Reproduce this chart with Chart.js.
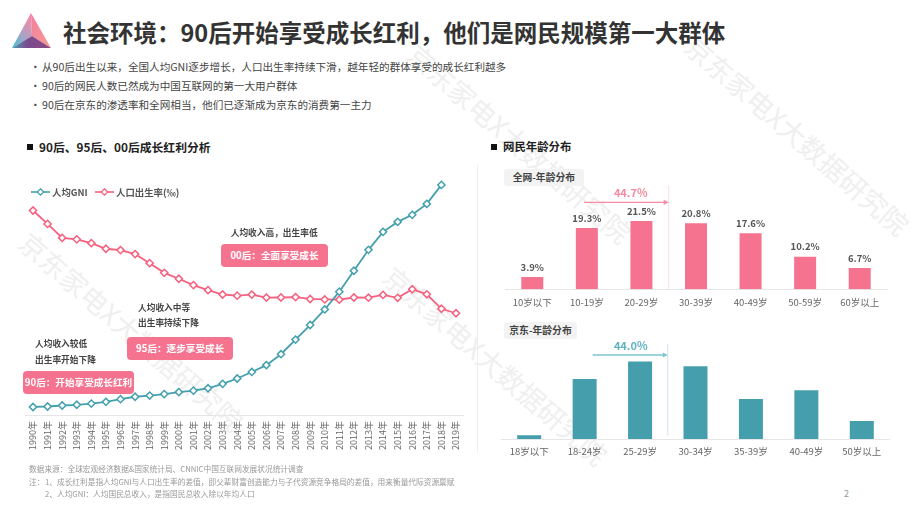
<!DOCTYPE html>
<html>
<head>
<meta charset="utf-8">
<script src="https://cdn.jsdelivr.net/npm/chart.js@4"></script>
<style>
html, body { margin: 0; padding: 0; background: #fff; }
body { width: 920px; height: 518px; position: relative; overflow: hidden; font-family: "Noto Sans CJK SC", sans-serif; }
canvas { position: absolute; }
.t { position: absolute; white-space: nowrap; transform: translateY(-50%); line-height: 1.2; }
.title { font-size: 23.5px; font-weight: 700; color: #333; }
.bullet { font-size: 10.6px; color: #444; }
.head { font-size: 11.8px; font-weight: 700; color: #222; }
.note { font-size: 8.7px; font-weight: 700; color: #444; }
.foot { font-size: 7.7px; color: #999; }
.pill { position: absolute; background: #f5738f; border-radius: 4px; color: #fff; font-size: 9.6px; font-weight: 700; text-align: center; white-space: nowrap; }
.tag { position: absolute; background: #f3f3f3; border-radius: 3px; color: #444; font-size: 9.8px; font-weight: 700; text-align: center; white-space: nowrap; }
.sq { position: absolute; width: 6px; height: 6px; background: #111; }
.wm { position: absolute; white-space: nowrap; font-size: 27px; color: #efefef; transform-origin: 0 50%; transform: rotate(41deg); line-height: 1; }
.legend { position: absolute; left: 31px; top: 186px; height: 12px; font-size: 9.4px; font-weight: 700; color: #555; }
.legend svg { position: absolute; top: 0; }
.legend span { position: absolute; top: -1px; white-space: nowrap; }
</style>
</head>
<body>
<div class="wm" style="left:412px;top:36px">京东家电X大数据研究院</div>
<div class="wm" style="left:690px;top:28px">京东家电X大数据研究院</div>
<div class="wm" style="left:24px;top:224px">京东家电X大数据研究院</div>
<div class="wm" style="left:388px;top:258px">京东家电X大数据研究院</div>

<svg style="position:absolute;left:0;top:0" width="60" height="60">
  <defs>
    <linearGradient id="lf" x1="0.7" y1="0" x2="0.1" y2="1"><stop offset="0" stop-color="#f58aa8"/><stop offset="0.55" stop-color="#a9a3c4"/><stop offset="1" stop-color="#3cc3d6"/></linearGradient>
    <linearGradient id="rf" x1="0.2" y1="0" x2="0.8" y2="1"><stop offset="0" stop-color="#f47f9f"/><stop offset="1" stop-color="#f59a94"/></linearGradient>
    <linearGradient id="bf" x1="0" y1="0" x2="1" y2="0"><stop offset="0" stop-color="#4d9fb5"/><stop offset="0.4" stop-color="#7a4a8e"/><stop offset="1" stop-color="#8a4a80"/></linearGradient>
  </defs>
  <polygon points="31,13 12,48 32,36" fill="url(#lf)"/>
  <polygon points="31,13 51,48 32,36" fill="url(#rf)"/>
  <polygon points="12,48 51,48 32,36" fill="url(#bf)"/>
</svg>

<div class="t title" style="left:63px;top:32px">社会环境：90后开始享受成长红利，他们是网民规模第一大群体</div>

<div class="t bullet" style="left:30px;top:66.5px">•</div>
<div class="t bullet" style="left:42px;top:66.5px">从90后出生以来，全国人均GNI逐步增长，人口出生率持续下滑，越年轻的群体享受的成长红利越多</div>
<div class="t bullet" style="left:30px;top:85.5px">•</div>
<div class="t bullet" style="left:42px;top:85.5px">90后的网民人数已然成为中国互联网的第一大用户群体</div>
<div class="t bullet" style="left:30px;top:104.5px">•</div>
<div class="t bullet" style="left:42px;top:104.5px">90后在京东的渗透率和全网相当，他们已逐渐成为京东的消费第一主力</div>

<div class="sq" style="left:27px;top:144px"></div>
<div class="t head" style="left:39px;top:147px">90后、95后、00后成长红利分析</div>
<div class="sq" style="left:491px;top:143.5px"></div>
<div class="t head" style="left:503px;top:146.5px;font-size:11.4px">网民年龄分布</div>

<div style="position:absolute;left:477px;top:165px;width:1px;height:288px;background:#eee"></div>

<canvas id="lineChart" style="left:0;top:165px" width="476" height="300"></canvas>
<canvas id="allNetChart" style="left:480px;top:180px" width="420" height="130"></canvas>
<canvas id="jdChart" style="left:480px;top:335px" width="420" height="130"></canvas>

<div class="legend" id="lineLegend"></div>

<div class="t note" style="left:230.7px;top:232.5px">人均收入高，出生率低</div>
<div class="pill" style="left:221.3px;top:243.7px;width:106.4px;height:23.6px;line-height:23.6px">00后：全面享受成长</div>
<div class="t note" style="left:138px;top:307.7px">人均收入中等</div>
<div class="t note" style="left:138px;top:323px">出生率持续下降</div>
<div class="pill" style="left:127.3px;top:336.7px;width:105.7px;height:23.3px;line-height:23.3px">95后：逐步享受成长</div>
<div class="t note" style="left:35px;top:344px">人均收入较低</div>
<div class="t note" style="left:35px;top:360px">出生率开始下降</div>
<div class="pill" style="left:23.3px;top:370.7px;width:110.4px;height:23.6px;line-height:23.6px">90后：开始享受成长红利</div>

<div class="tag" style="left:503.7px;top:169.3px;width:80.3px;height:16.7px;line-height:16.7px">全网-年龄分布</div>
<div class="tag" style="left:504px;top:322px;width:73px;height:17.3px;line-height:17.3px">京东-年龄分布</div>

<div class="t foot" style="left:29px;top:469.3px">数据来源：全球宏观经济数据&amp;国家统计局、CNNIC中国互联网发展状况统计调查</div>
<div class="t foot" style="left:29px;top:481.7px">注：</div>
<div class="t foot" style="left:45px;top:481.7px">1、成长红利是指人均GNI与人口出生率的差值，即父辈财富创造能力与子代资源竞争格局的差值，用来衡量代际资源禀赋</div>
<div class="t foot" style="left:45px;top:493.7px">2、人均GNI：人均国民总收入，是指国民总收入除以年均人口</div>
<div class="t foot" style="left:844px;top:493.7px;font-size:9px">2</div>

<script>
// line chart data
const years = ['1990年','1991年','1992年','1993年','1994年','1995年','1996年','1997年','1998年','1999年',
    '2000年','2001年','2002年','2003年','2004年','2005年','2006年','2007年','2008年','2009年',
    '2010年','2011年','2012年','2013年','2014年','2015年','2016年','2017年','2018年','2019年'];
const gniName = '人均GNI';
const gniValues = [330, 350, 390, 420, 470, 540, 650, 750, 800, 860,
    940, 1000, 1100, 1280, 1500, 1770, 2050, 2500, 3100, 3700,
    4340, 5070, 5930, 6790, 7530, 7940, 8230, 8680, 9460, null];
const birthName = '人口出生率(‰)';
const birthValues = [21.06, 19.68, 18.24, 18.09, 17.70, 17.12, 16.98, 16.57, 15.64, 14.64,
    14.03, 13.38, 12.86, 12.41, 12.29, 12.40, 12.09, 12.10, 12.14, 11.95,
    11.90, 11.88, 12.10, 12.08, 12.37, 12.07, 12.95, 12.43, 10.94, 10.48];

// age distribution data
const allNetAges = ['10岁以下', '10-19岁', '20-29岁', '30-39岁', '40-49岁', '50-59岁', '60岁以上'];
const allNetValues = [3.9, 19.3, 21.5, 20.8, 17.6, 10.2, 6.7];
const allNetShare = '44.7%';
const jdAges = ['18岁以下', '18-24岁', '25-29岁', '30-34岁', '35-39岁', '40-49岁', '50岁以上'];
const jdValues = [1.2, 19.2, 24.8, 23.3, 12.8, 15.6, 5.8];
const jdShare = '44.0%';

const TEAL = '#45a0ae';
const PINK = '#f5617f';
const CJK = '"Noto Sans CJK SC", sans-serif';

Chart.defaults.font.family = CJK;
Chart.defaults.animation = false;
Chart.defaults.responsive = false;
Chart.defaults.plugins.legend.display = false;
Chart.defaults.plugins.tooltip.enabled = false;

// legend with the diamond on the line, like the slide has it
function legendItem(left, textLeft, color, label) {
    return '<svg style="left:' + left + 'px" width="20" height="12">' +
        '<line x1="0" y1="6" x2="19" y2="6" stroke="' + color + '" stroke-width="1.6"/>' +
        '<polygon points="9.5,2.8 12.7,6 9.5,9.2 6.3,6" fill="#fff" stroke="' + color + '" stroke-width="1.3"/></svg>' +
        '<span style="left:' + textLeft + 'px">' + label + '</span>';
}
document.getElementById('lineLegend').innerHTML =
    legendItem(0, 21, TEAL, gniName) + legendItem(64, 85, PINK, birthName);

function lineSet(label, data, color, axis) {
    return {
        label: label, data: data, yAxisID: axis,
        borderColor: color, borderWidth: 1.8,
        pointStyle: 'rectRot', pointRadius: 3.6,
        pointBackgroundColor: '#fff', pointBorderColor: color, pointBorderWidth: 1.5,
        tension: 0, clip: false
    };
}

new Chart(document.getElementById('lineChart'), {
    type: 'line',
    data: {
        labels: years,
        datasets: [
            lineSet(gniName, gniValues, TEAL, 'gni'),
            lineSet(birthName, birthValues, PINK, 'birth')
        ]
    },
    options: {
        layout: { padding: { left: 25.7, right: 12.7, top: 5, bottom: 0 } },
        scales: {
            x: {
                offset: true,
                grid: { display: false, drawTicks: false },
                border: { color: '#e6e6e6' },
                afterFit: function(scale) {
                    scale.height = 50;
                    scale.paddingLeft = 0;
                    scale.paddingRight = 0;
                },
                ticks: {
                    autoSkip: false, minRotation: 90, maxRotation: 90,
                    padding: 6, color: '#666', font: { size: 9 }
                }
            },
            gni: { display: false, min: 0, max: 10053 },
            birth: { display: false, min: 0, max: 25.18 }
        }
    }
});

// value labels above the bars, and the bracket arrow over the young age groups
const barExtras = {
    id: 'barExtras',
    afterDatasetsDraw: function(chart, args, opts) {
        const ctx = chart.ctx;
        const xs = chart.scales.x;
        const ys = chart.scales.y;
        ctx.save();
        if (opts.showValues) {
            ctx.fillStyle = '#555';
            ctx.font = '700 9.5px ' + CJK;
            ctx.textAlign = 'center';
            ctx.textBaseline = 'middle';
            chart.getDatasetMeta(0).data.forEach(function(bar, i) {
                ctx.fillText(chart.data.datasets[0].data[i].toFixed(1) + '%', bar.x, bar.y - 10);
            });
        }
        const splitX = (xs.getPixelForValue(opts.splitAfter) + xs.getPixelForValue(opts.splitAfter + 1)) / 2;
        ctx.strokeStyle = opts.splitColor;
        ctx.lineWidth = 1;
        ctx.beginPath();
        ctx.moveTo(splitX, opts.splitTop);
        ctx.lineTo(splitX, ys.getPixelForValue(opts.splitBottom));
        ctx.stroke();

        const arrowY = opts.arrowY;
        ctx.strokeStyle = opts.arrowColor;
        ctx.fillStyle = opts.arrowColor;
        ctx.lineWidth = 1.3;
        ctx.beginPath();
        ctx.moveTo(opts.arrowFrom, arrowY);
        ctx.lineTo(splitX - 3, arrowY);
        ctx.stroke();
        ctx.beginPath();
        ctx.moveTo(splitX, arrowY);
        ctx.lineTo(splitX - 5, arrowY - 2.6);
        ctx.lineTo(splitX - 5, arrowY + 2.6);
        ctx.closePath();
        ctx.fill();

        ctx.fillStyle = opts.textColor;
        ctx.font = '700 11px ' + CJK;
        ctx.textAlign = 'center';
        ctx.textBaseline = 'middle';
        ctx.fillText(opts.text, 150.7, opts.textY);
        ctx.restore();
    }
};

function barChart(id, ages, values, color, cfg) {
    return new Chart(document.getElementById(id), {
        type: 'bar',
        data: {
            labels: ages,
            datasets: [{
                data: values, backgroundColor: color,
                barPercentage: cfg.barShare, categoryPercentage: 1
            }]
        },
        plugins: [barExtras],
        options: {
            layout: { padding: { left: cfg.left, right: cfg.right, top: cfg.top, bottom: 0 } },
            scales: {
                x: {
                    grid: { display: false, drawTicks: false },
                    border: { color: '#e6e6e6' },
                    afterFit: function(scale) {
                        scale.height = cfg.axisHeight;
                        scale.paddingLeft = 0;
                        scale.paddingRight = 0;
                    },
                    ticks: { padding: 7, color: '#666', font: { size: 9.5 }, maxRotation: 0, autoSkip: false }
                },
                y: { display: false, min: 0, max: cfg.max }
            },
            plugins: { barExtras: cfg.extras }
        }
    });
}

barChart('allNetChart', allNetAges, allNetValues, '#f5738f', {
    barShare: 0.403, left: 25, right: 13, top: 5.3, axisHeight: 20.7, max: 32.7,
    extras: {
        showValues: true, splitAfter: 2, splitTop: 5.7, splitBottom: 0,
        splitColor: '#fbdde4', arrowFrom: 104, arrowY: 22.3, arrowColor: '#f78da5',
        text: allNetShare, textY: 13, textColor: '#f58ba3'
    }
});

barChart('jdChart', jdAges, jdValues, '#459eac', {
    barShare: 0.433, left: 21.5, right: 10.5, top: 5, axisHeight: 26, max: 31.73,
    extras: {
        showValues: false, splitAfter: 2, splitTop: 9, splitBottom: 1,
        splitColor: '#cfe8ec', arrowFrom: 112.7, arrowY: 20, arrowColor: '#7fc4cf',
        text: jdShare, textY: 10.7, textColor: '#5fb3c1'
    }
});
</script>
</body>
</html>
